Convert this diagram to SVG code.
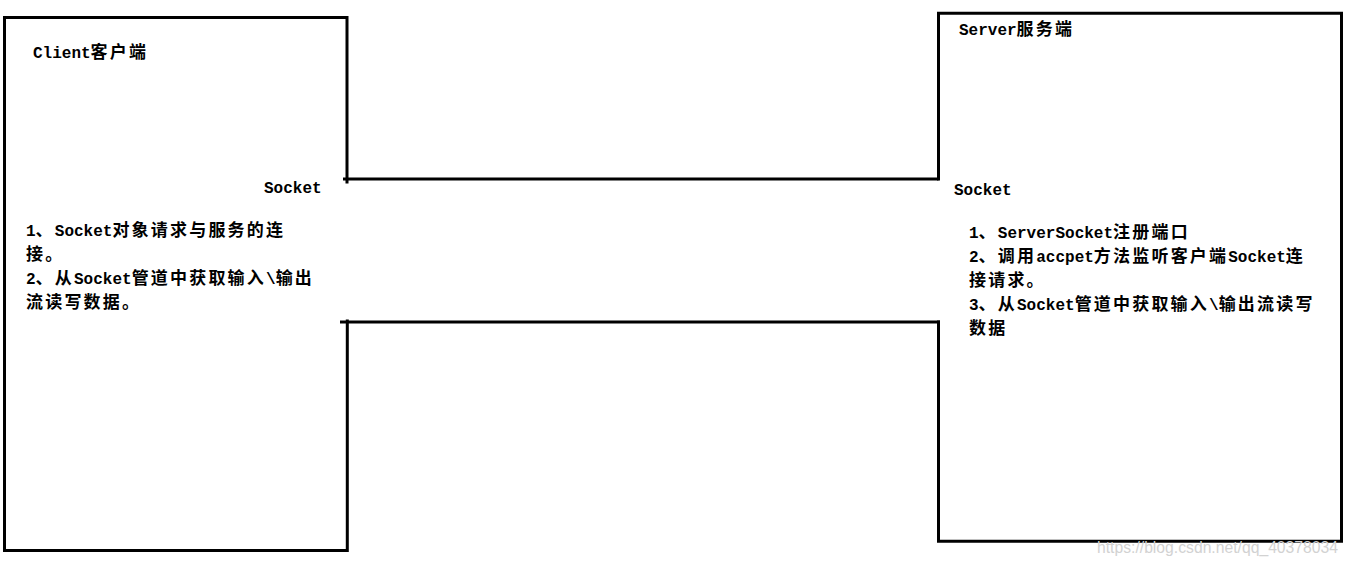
<svg xmlns="http://www.w3.org/2000/svg" width="1349" height="566" viewBox="0 0 1349 566">
<style>
.box{fill:none;stroke:#000;stroke-width:3;stroke-linecap:square;stroke-linejoin:miter}
.conn{fill:none;stroke:#000;stroke-width:3}
.t{font-family:"Liberation Mono","Noto Sans CJK SC",monospace;font-size:16px;font-weight:bold;fill:#000}
.c{font-family:"Noto Sans CJK SC",sans-serif;font-size:17px;letter-spacing:2.2px}
.wm{font-family:"Liberation Sans",Arial,sans-serif;font-size:16px;fill:#d2d2d2}
</style>
<rect width="1349" height="566" fill="#fff"/>
<g id="client">
<path class="box" d="M347,182 V17.5 H4.5 V550.5 H347.3 V321"/>
<text class="t" x="33" y="58">Client<tspan class="c">客户端</tspan></text>
<text class="t" x="264" y="193">Socket</text>
<text class="t" x="26" y="236">1<tspan class="c">、</tspan>Socket<tspan class="c">对象请求与服务的连</tspan></text>
<text class="t" x="26" y="260"><tspan class="c">接。</tspan></text>
<text class="t" x="26" y="284">2<tspan class="c">、从</tspan>Socket<tspan class="c">管道中获取输入</tspan>\<tspan class="c">输出</tspan></text>
<text class="t" x="26" y="308"><tspan class="c">流读写数据。</tspan></text>
</g>
<g id="server">
<path class="box" d="M938.5,179 V13.3 H1341.5 V541.3 H938.5 V322"/>
<text class="t" x="959" y="35">Server<tspan class="c">服务端</tspan></text>
<text class="t" x="954" y="195">Socket</text>
<text class="t" x="969" y="238">1<tspan class="c">、</tspan>ServerSocket<tspan class="c">注册端口</tspan></text>
<text class="t" x="969" y="262">2<tspan class="c">、调用</tspan>accpet<tspan class="c">方法监听客户端</tspan>Socket<tspan class="c">连</tspan></text>
<text class="t" x="969" y="286"><tspan class="c">接请求。</tspan></text>
<text class="t" x="969" y="310">3<tspan class="c">、从</tspan>Socket<tspan class="c">管道中获取输入</tspan>\<tspan class="c">输出流读写</tspan></text>
<text class="t" x="969" y="334"><tspan class="c">数据</tspan></text>
</g>
<g id="connectors">
<line class="conn" x1="343" y1="179" x2="938.5" y2="179"/>
<line class="conn" x1="340" y1="322" x2="940" y2="322"/>
</g>
<text class="wm" x="1097" y="553" textLength="241" lengthAdjust="spacingAndGlyphs">https://blog.csdn.net/qq_40378034</text>
</svg>
